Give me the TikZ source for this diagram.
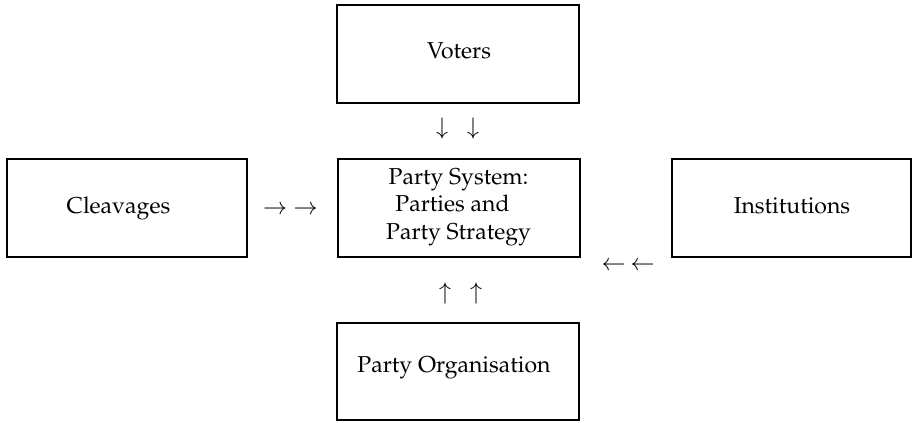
\documentclass[tikz,border=0pt]{standalone}
\usepackage[T1]{fontenc}
\usepackage{mathpazo}
\tikzset{
  box/.style={draw, line width=2.2pt, rectangle, inner sep=0pt},
  lbl/.style={font=\fontsize{23}{27.7}\selectfont, inner sep=0pt, anchor=base},
  arr/.style={font=\fontsize{23}{27.7}\selectfont, inner sep=0pt},
}
\begin{document}
\begin{tikzpicture}[x=1pt,y=-1pt]
\useasboundingbox (0,0) rectangle (913,423);
% boxes
\node[box, minimum width=242pt, minimum height=98pt] (voters) at (458,54) {};
\node[box, minimum width=242pt, minimum height=98pt] (system) at (459,208) {};
\node[box, minimum width=240pt, minimum height=98pt] (cleav) at (127,208) {};
\node[box, minimum width=239pt, minimum height=98pt] (inst) at (791.5,208) {};
\node[box, minimum width=242pt, minimum height=97pt] (org) at (458,371.5) {};
% texts
\node[lbl] (tvoters) at (459,58) {Voters};
\node[lbl] (tcleav) at (118.5,213) {Cleavages};
\node[lbl] (tinst) at (792,213) {Institutions};
\node[lbl] (torg) at (454,372) {Party Organisation};
\node[lbl] (ts1) at (458.5,184) {Party System:};
\node[lbl] (ts2) at (452.5,211.7) {Parties and};
\node[lbl] (ts3) at (458.5,239.5) {Party Strategy};
% glyph arrows
\node[arr] (d1) at (442,128.5) {$\downarrow$};
\node[arr] (d2) at (473,128.5) {$\downarrow$};
\node[arr] (r1) at (275,210) {$\rightarrow$};
\node[arr] (r2) at (305.5,210) {$\rightarrow$};
\node[arr] (l1) at (613.5,266) {$\leftarrow$};
\node[arr] (l2) at (642.5,266) {$\leftarrow$};
\node[arr] (u1) at (445,294) {$\uparrow$};
\node[arr] (u2) at (476,294) {$\uparrow$};
\end{tikzpicture}
\end{document}
